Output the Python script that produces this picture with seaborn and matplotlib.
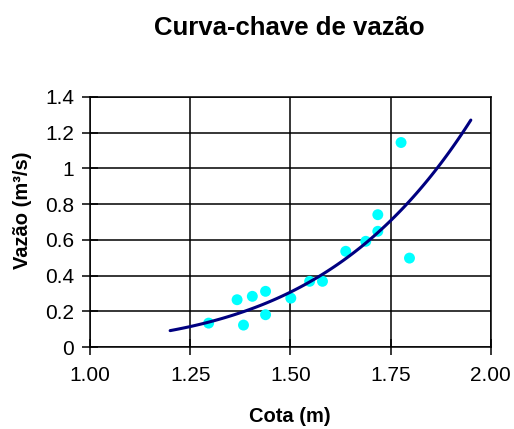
import numpy as np
import pandas as pd
from matplotlib import pyplot as plt
from matplotlib.ticker import FuncFormatter
import seaborn as sns

# medições (cota em m, vazão em m3/s)
cota = [1.296, 1.367, 1.383, 1.405, 1.438, 1.438, 1.501, 1.548,
        1.580, 1.638, 1.688, 1.718, 1.718, 1.776, 1.797]
vazao = [0.134, 0.265, 0.123, 0.284, 0.312, 0.181, 0.274, 0.368,
         0.368, 0.536, 0.592, 0.648, 0.741, 1.145, 0.498]

# alcance da linha de tendência (potência)
trend_start = 1.20
trend_end = 1.95

x_ticks = [1.00, 1.25, 1.50, 1.75, 2.00]
y_ticks = [0, 0.2, 0.4, 0.6, 0.8, 1.0, 1.2, 1.4]

df = pd.DataFrame({"cota": cota, "vazao": vazao})

# ajuste y = a * x^b em escala log-log
b, ln_a = np.polyfit(np.log(df["cota"]), np.log(df["vazao"]), 1)
xt = np.linspace(trend_start, trend_end, 100)
trend = pd.DataFrame({"cota": xt, "vazao": np.exp(ln_a) * xt ** b})

sns.set_style("white")
plt.rcParams["font.family"] = ["Liberation Sans", "DejaVu Sans"]
plt.rcParams["text.color"] = "black"

fig = plt.figure(figsize=(5.14, 4.29), dpi=100)
ax = fig.add_axes([0.175, 0.191, 0.78, 0.583])

sns.scatterplot(data=df, x="cota", y="vazao", ax=ax, color="#00FFFF",
                s=62, edgecolor="none", zorder=3)
sns.lineplot(data=trend, x="cota", y="vazao", ax=ax, color="#000080",
             linewidth=2.2, zorder=4)

ax.set_xlim(1.0, 2.0)
ax.set_ylim(0, 1.4)
ax.set_xticks(x_ticks)
ax.set_yticks(y_ticks)
ax.xaxis.set_major_formatter(FuncFormatter(lambda v, p: f"{v:.2f}"))
ax.yaxis.set_major_formatter(FuncFormatter(lambda v, p: f"{v:g}"))
ax.grid(True, color="black", linewidth=1.1)
for s in ax.spines.values():
    s.set_color("black")
    s.set_linewidth(1.1)
ax.tick_params(axis="both", direction="inout", length=11, width=1.1,
               color="black", labelsize=15, labelcolor="black",
               bottom=True, left=True)
ax.tick_params(axis="x", pad=8)
ax.tick_params(axis="y", pad=6)

ax.set_xlabel("")
ax.set_ylabel("")
fig.text(0.564, 0.028, "Cota (m)", ha="center", va="center",
         fontsize=14.5, fontweight="bold", color="black")
fig.text(0.043, 0.51, "Vazão (m³/s)", ha="center", va="center",
         rotation=90, fontsize=14.5, fontweight="bold", color="black")
fig.text(0.562, 0.935, "Curva-chave de vazão", ha="center", va="center",
         fontsize=18.5, fontweight="bold", color="black")

fig.savefig("out.png", dpi=100)
